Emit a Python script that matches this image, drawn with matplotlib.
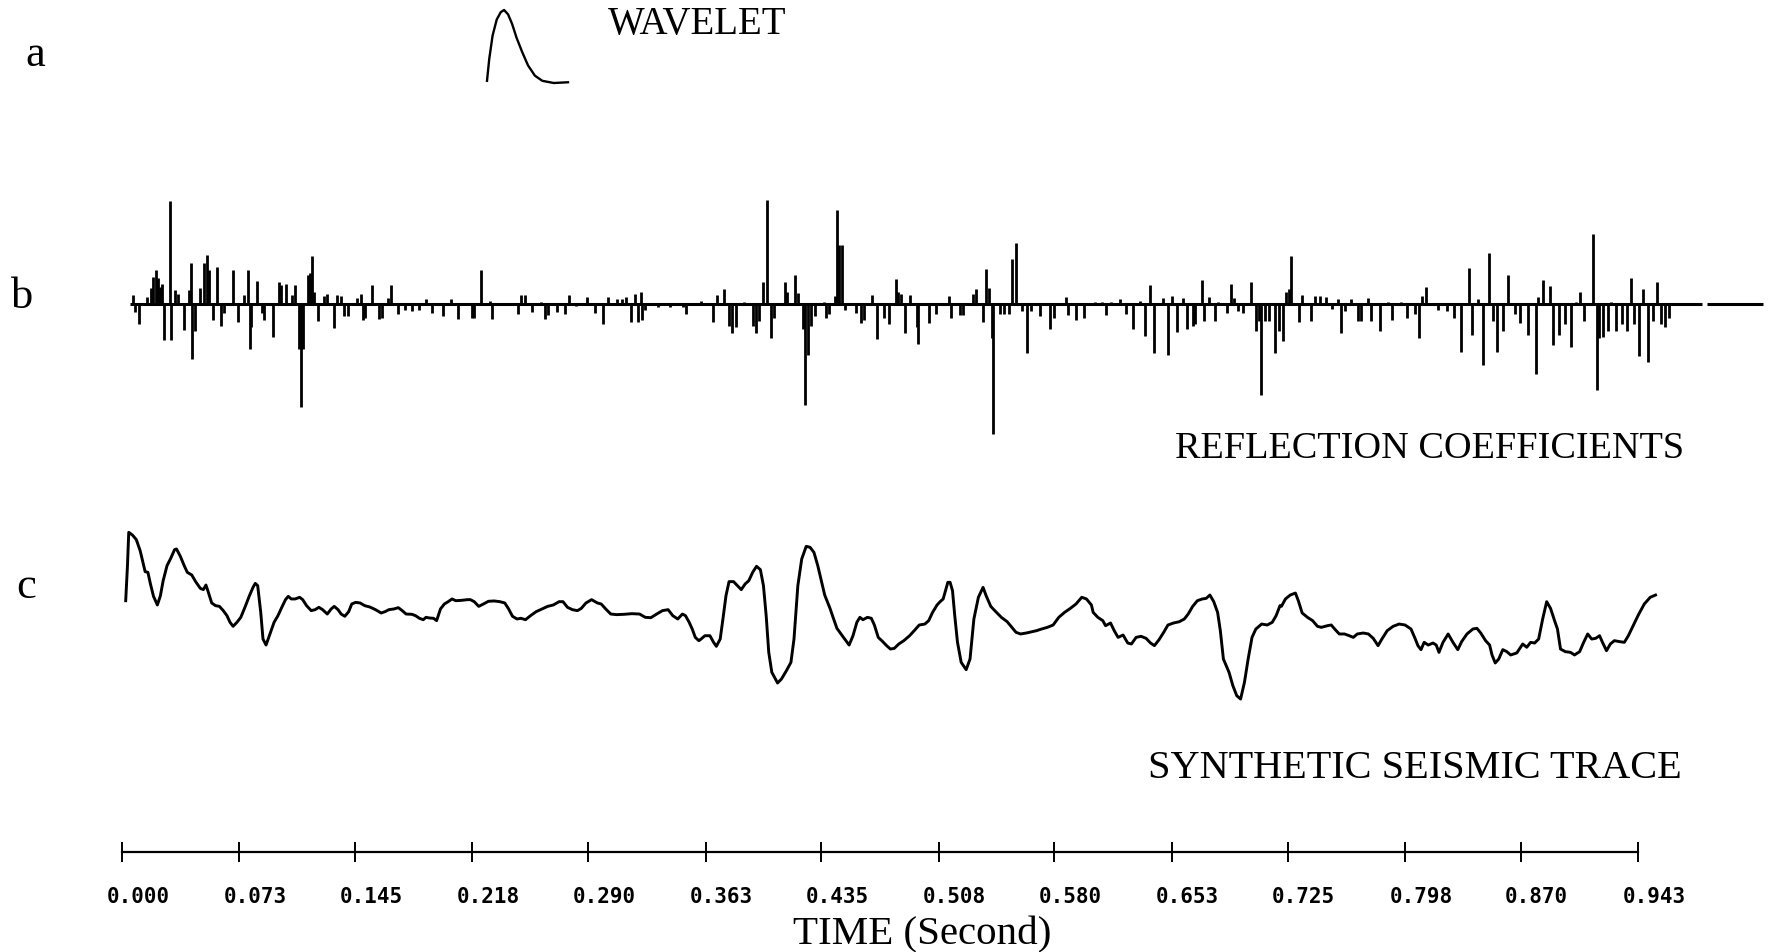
"""
Synthetic seismogram figure: wavelet, reflection coefficients, synthetic trace.
"""

import matplotlib
matplotlib.use("Agg")
import matplotlib.pyplot as plt
from matplotlib.transforms import ScaledTranslation

W, H = 1775, 953

# a: source wavelet (time from onset, s / normalised amplitude)
wavelet_t = [0.0000, 0.0014, 0.0035, 0.0061, 0.0086, 0.0107, 0.0132, 0.0157,
             0.0185, 0.0221, 0.0257, 0.0300, 0.0346, 0.0418, 0.0507]
wavelet_amp = [0.03, 0.33, 0.65, 0.87, 0.97, 1.00, 0.94, 0.81,
               0.62, 0.42, 0.24, 0.10, 0.03, 0.00, 0.01]

# b: reflection coefficients (two-way time, s / relative amplitude)
rc_time = [
    0.0070, 0.0080, 0.0107, 0.0158, 0.0180, 0.0191, 0.0212, 0.0223, 0.0234, 0.0250,
    0.0263, 0.0296, 0.0302, 0.0327, 0.0351, 0.0384, 0.0419, 0.0432, 0.0438, 0.0452,
    0.0487, 0.0509, 0.0531, 0.0544, 0.0564, 0.0590, 0.0618, 0.0636, 0.0689, 0.0724,
    0.0761, 0.0783, 0.0794, 0.0805, 0.0840, 0.0871, 0.0882, 0.0939, 0.0976, 0.0987,
    0.1020, 0.1057, 0.1079, 0.1101, 0.1112, 0.1127, 0.1156, 0.1171, 0.1184, 0.1195,
    0.1220, 0.1255, 0.1277, 0.1316, 0.1336, 0.1364, 0.1382, 0.1408, 0.1459, 0.1485,
    0.1496, 0.1509, 0.1557, 0.1597, 0.1617, 0.1654, 0.1676, 0.1715, 0.1759, 0.1803,
    0.1847, 0.1891, 0.1931, 0.1996, 0.2049, 0.2088, 0.2176, 0.2192, 0.2231, 0.2286,
    0.2303, 0.2352, 0.2461, 0.2483, 0.2505, 0.2549, 0.2604, 0.2633, 0.2648, 0.2703,
    0.2758, 0.2780, 0.2824, 0.2890, 0.2944, 0.2992, 0.3021, 0.3076, 0.3109, 0.3137,
    0.3164, 0.3190, 0.3208,
    0.3226, 0.3236, 0.3255, 0.3333, 0.3411, 0.3489, 0.3506, 0.3600, 0.3677, 0.3700,
    0.3744, 0.3777, 0.3795, 0.3817, 0.3866, 0.3928, 0.3944, 0.3962, 0.3988, 0.4015,
    0.4039, 0.4055, 0.4121, 0.4137, 0.4184, 0.4206, 0.4233, 0.4248, 0.4266, 0.4284,
    0.4310, 0.4366, 0.4381, 0.4399, 0.4432, 0.4450, 0.4461, 0.4477, 0.4499, 0.4563,
    0.4599, 0.4617, 0.4666, 0.4695, 0.4739, 0.4772, 0.4817, 0.4826, 0.4848, 0.4870,
    0.4901, 0.4943, 0.4954, 0.5021, 0.5065, 0.5143, 0.5155, 0.5210, 0.5232, 0.5294,
    0.5314, 0.5354, 0.5376, 0.5394, 0.5410, 0.5421, 0.5461, 0.5487, 0.5516, 0.5539,
    0.5559, 0.5599, 0.5627, 0.5654, 0.5710, 0.5772, 0.5798, 0.5869, 0.5883, 0.5932,
    0.5987, 0.6054, 0.6098, 0.6120, 0.6154, 0.6209, 0.6243, 0.6287, 0.6331, 0.6365,
    0.6394, 0.6420, 0.6476, 0.6505, 0.6531, 0.6565, 0.6598, 0.6625, 0.6665,
    0.6677, 0.6717, 0.6732, 0.6760, 0.6796, 0.6820, 0.6873, 0.6899, 0.6916, 0.6940,
    0.6976, 0.7024, 0.7055, 0.7071, 0.7088, 0.7107, 0.7136, 0.7174, 0.7198, 0.7222,
    0.7239, 0.7256, 0.7270, 0.7323, 0.7342, 0.7394, 0.7423, 0.7454, 0.7490, 0.7526,
    0.7562, 0.7581, 0.7610, 0.7645, 0.7688, 0.7705, 0.7753, 0.7770, 0.7825, 0.7873,
    0.7897, 0.7956, 0.7992, 0.8040, 0.8069, 0.8088, 0.8112, 0.8184, 0.8243, 0.8284,
    0.8327, 0.8380, 0.8399, 0.8435, 0.8463, 0.8502, 0.8530, 0.8554, 0.8590, 0.8621,
    0.8662, 0.8698, 0.8746, 0.8794, 0.8806, 0.8841, 0.8882, 0.8901, 0.8937, 0.8973,
    0.9014, 0.9045, 0.9069, 0.9093, 0.9152, 0.9172, 0.9188, 0.9212, 0.9241, 0.9265,
    0.9296, 0.9332, 0.9360, 0.9384, 0.9403, 0.9439, 0.9463, 0.9494, 0.9523, 0.9547,
    0.9571, 0.9595, 0.9624,
]
rc_amp = [
    8, -7, -18, 6, 14, 24, 30, 23, 15, 18,
    -32, 91, -32, 12, 9, -23, 12, 36, -49, -24,
    14, 36, 43, 30, -14, 33, -19, -8, 30, -16,
    8, 30, -40, -20, 20, -8, -14, -29, 19, 17,
    18, 8, 17, -40, -91, -40, 26, 27, 42, 11,
    -15, 7, 9, -21, 8, 7, -11, -11, 5, 9,
    -14, -12, 17, -13, -12, 5, 17, -9, -5, -6,
    -5, 4, -8, -11, 4, -13, -12, -12, 30, 3,
    -13, 1, -9, 8, 8, -7, 2, -13, -10, -7,
    -9, 8, -2, 6, -8, -18, 6, 4, 4, 6,
    -16, 9, -16,
    11, -14, -5, -3, -3, -3, -9, 3, -16, 8,
    13, -19, -26, -20, 2, -19, -26, -15, 19, 92,
    -30, -12, 19, 11, 26, 10, -22, -89, -45, -19,
    -11, 2, -12, -9, 7, 83, 52, 52, -5, -8,
    -17, -14, 8, -31, -12, -18, 22, 11, 9, -26,
    8, -20, -35, -17, -9, 7, -12, -10, -10, 9,
    13, -16, 31, 14, -30, -115, -9, -9, -9, 40,
    54, -6, -43, -6, -11, -22, -12, 6, -10, -14,
    -12, 2, 2, -10, 2, 4, -9, -22, 3, -28,
    17, -43, 5, -45, 7, -25, 5, -22, -19,
    -18, 21, -15, 6, -15, 2, -8, 18, 5, -6,
    -8, 19, -24, -15, -80, -15, -15, -43, -24, -33,
    11, 13, 42, -16, 8, -15, 7, 7, 6, -4,
    4, -26, -6, 4, -15, -15, 5, -15, -24, 2,
    -14, 2, -12, -9, -30, 7, 15, -5, -6, -12,
    -42, 32, -27, 4, -54, 45, -15, -42, -24, 26,
    -9, -17, -27, -62, 6, 21, 16, -36, -27, -18,
    -38, 2, 11, -15, 62, -76, -30, -29, -24, 2,
    -24, -18, -24, 23, -18, -46, 13, -51, -15, 19,
    -18, -20, -12,
]
rc_baseline_start = [0.005, 0.986]
rc_baseline_end = [0.983, 1.021]

# c: synthetic seismic trace (s / relative amplitude)
trace_time = [
    0.0023, 0.0034, 0.0042, 0.0065, 0.0089, 0.0113, 0.0130, 0.0144, 0.0161, 0.0177,
    0.0196, 0.0220, 0.0239, 0.0256, 0.0280, 0.0303, 0.0327, 0.0339, 0.0363, 0.0387,
    0.0406, 0.0434, 0.0458, 0.0487, 0.0506, 0.0522, 0.0534, 0.0558, 0.0582, 0.0606,
    0.0630, 0.0653, 0.0672, 0.0691, 0.0715, 0.0739, 0.0767, 0.0791, 0.0815, 0.0829,
    0.0844, 0.0863, 0.0877, 0.0896, 0.0915, 0.0946, 0.0970, 0.0994, 0.1017, 0.1034,
    0.1053, 0.1077, 0.1105, 0.1124, 0.1148, 0.1177, 0.1201, 0.1225, 0.1248, 0.1277,
    0.1301, 0.1320, 0.1344, 0.1363, 0.1386, 0.1410, 0.1429, 0.1453, 0.1481, 0.1510,
    0.1541, 0.1577, 0.1612, 0.1636, 0.1660, 0.1691, 0.1719, 0.1743, 0.1767, 0.1803,
    0.1826, 0.1850, 0.1874, 0.1891, 0.1915, 0.1938, 0.1957, 0.1981, 0.2005, 0.2029,
    0.2053, 0.2076, 0.2112, 0.2148, 0.2167, 0.2191, 0.2219, 0.2248, 0.2279, 0.2314,
    0.2350, 0.2381, 0.2405, 0.2429, 0.2457, 0.2481, 0.2510, 0.2541, 0.2576, 0.2612,
    0.2648, 0.2683, 0.2719, 0.2743, 0.2771, 0.2802, 0.2833, 0.2857, 0.2886, 0.2921,
    0.2957, 0.2981, 0.3009, 0.3040, 0.3076, 0.3124, 0.3171, 0.3219, 0.3255, 0.3290,
    0.3326, 0.3362, 0.3397, 0.3426, 0.3457, 0.3486, 0.3505, 0.3528, 0.3547, 0.3566,
    0.3588, 0.3602, 0.3626, 0.3657, 0.3680, 0.3697, 0.3721, 0.3738, 0.3757, 0.3776,
    0.3804, 0.3828, 0.3852, 0.3876, 0.3899, 0.3923, 0.3947, 0.3971, 0.3990, 0.4007,
    0.4023, 0.4042, 0.4078, 0.4102, 0.4133, 0.4161, 0.4180, 0.4204, 0.4228, 0.4256,
    0.4280, 0.4304, 0.4328, 0.4352, 0.4371, 0.4404, 0.4423, 0.4447, 0.4483, 0.4523,
    0.4547, 0.4571, 0.4590, 0.4609, 0.4637, 0.4661, 0.4680, 0.4704, 0.4732, 0.4756,
    0.4780, 0.4804, 0.4832, 0.4863, 0.4899, 0.4928, 0.4959, 0.4994, 0.5018, 0.5042,
    0.5070, 0.5089, 0.5108, 0.5137, 0.5151, 0.5166, 0.5180, 0.5197, 0.5220, 0.5251,
    0.5275, 0.5299, 0.5327, 0.5356, 0.5375, 0.5404, 0.5435, 0.5470, 0.5506, 0.5530,
    0.5561, 0.5589, 0.5625, 0.5661, 0.5689, 0.5720, 0.5756, 0.5792, 0.5827, 0.5863,
    0.5899, 0.5934, 0.5970, 0.5999, 0.6030, 0.6041, 0.6070, 0.6101, 0.6118, 0.6149,
    0.6172, 0.6196, 0.6227, 0.6256, 0.6279, 0.6308, 0.6339, 0.6370, 0.6398, 0.6422,
    0.6451, 0.6482, 0.6506, 0.6541, 0.6577, 0.6608, 0.6632, 0.6660, 0.6689, 0.6720,
    0.6744, 0.6767, 0.6791, 0.6815, 0.6832, 0.6851, 0.6886, 0.6910, 0.6934, 0.6958,
    0.6982, 0.7005, 0.7029, 0.7053, 0.7089, 0.7124, 0.7155, 0.7179, 0.7203, 0.7212,
    0.7237, 0.7267, 0.7299, 0.7317, 0.7341, 0.7374, 0.7406, 0.7436, 0.7460, 0.7498,
    0.7522, 0.7547, 0.7572, 0.7604, 0.7634, 0.7659, 0.7684, 0.7721, 0.7753, 0.7783,
    0.7813, 0.7837, 0.7870, 0.7907, 0.7944, 0.7981, 0.8018, 0.8043, 0.8061, 0.8080,
    0.8100, 0.8125, 0.8155, 0.8175, 0.8192, 0.8217, 0.8249, 0.8279, 0.8309, 0.8333,
    0.8366, 0.8403, 0.8428, 0.8452, 0.8482, 0.8507, 0.8522, 0.8542, 0.8564, 0.8589,
    0.8614, 0.8638, 0.8676, 0.8713, 0.8738, 0.8762, 0.8787, 0.8812, 0.8837, 0.8862,
    0.8886, 0.8911, 0.8929, 0.8948, 0.8978, 0.9010, 0.9035, 0.9067, 0.9092, 0.9117,
    0.9142, 0.9167, 0.9191, 0.9209, 0.9234, 0.9258, 0.9283, 0.9315, 0.9345, 0.9370,
    0.9400, 0.9432, 0.9469, 0.9506, 0.9539,
]
trace_amp = [
    0.062, 0.464, 0.847, 0.816, 0.763, 0.636, 0.502, 0.395, 0.388, 0.254,
    0.112, 0.013, 0.120, 0.292, 0.464, 0.548, 0.648, 0.656, 0.571, 0.464,
    0.388, 0.357, 0.281, 0.204, 0.189, 0.242, 0.177, 0.036, 0.005, -0.003,
    -0.052, -0.110, -0.186, -0.232, -0.186, -0.129, -0.003, 0.112, 0.215, 0.261,
    0.235, -0.072, -0.378, -0.447, -0.347, -0.186, -0.110, -0.014, 0.074, 0.112,
    0.082, 0.082, 0.101, 0.074, 0.005, -0.052, -0.041, -0.014, -0.041, -0.091,
    -0.033, -0.003, -0.041, -0.091, -0.117, -0.064, 0.024, 0.043, 0.036, 0.005,
    -0.010, -0.041, -0.079, -0.064, -0.041, -0.033, -0.018, -0.052, -0.091, -0.094,
    -0.110, -0.140, -0.156, -0.129, -0.137, -0.140, -0.167, -0.033, 0.024, 0.051,
    0.082, 0.062, 0.066, 0.074, 0.074, 0.051, -0.003, 0.024, 0.055, 0.059,
    0.051, 0.036, -0.033, -0.117, -0.148, -0.140, -0.156, -0.110, -0.064, -0.033,
    -0.003, 0.013, 0.051, 0.051, -0.014, -0.041, -0.052, -0.026, 0.036, 0.074,
    0.036, 0.024, -0.033, -0.091, -0.098, -0.094, -0.087, -0.091, -0.129, -0.133,
    -0.091, -0.052, -0.041, -0.110, -0.148, -0.091, -0.110, -0.186, -0.263, -0.359,
    -0.397, -0.378, -0.340, -0.340, -0.416, -0.462, -0.378, -0.148, 0.120, 0.281,
    0.281, 0.235, 0.189, 0.254, 0.292, 0.388, 0.457, 0.418, 0.235, -0.110,
    -0.531, -0.760, -0.883, -0.837, -0.741, -0.646, -0.378, 0.235, 0.541, 0.686,
    0.675, 0.617, 0.464, 0.273, 0.127, -0.026, -0.129, -0.255, -0.347, -0.447,
    -0.340, -0.186, -0.129, -0.156, -0.129, -0.140, -0.217, -0.359, -0.408, -0.454,
    -0.493, -0.485, -0.435, -0.397, -0.340, -0.282, -0.217, -0.206, -0.167, -0.072,
    0.013, 0.051, 0.082, 0.273, 0.273, 0.177, -0.110, -0.416, -0.646, -0.730,
    -0.607, -0.148, 0.101, 0.215, 0.120, -0.003, -0.064, -0.129, -0.179, -0.232,
    -0.301, -0.320, -0.309, -0.294, -0.282, -0.263, -0.244, -0.217, -0.129, -0.072,
    -0.026, 0.024, 0.101, 0.082, 0.013, -0.072, -0.129, -0.167, -0.225, -0.194,
    -0.282, -0.359, -0.332, -0.424, -0.435, -0.359, -0.347, -0.370, -0.424, -0.454,
    -0.385, -0.294, -0.217, -0.194, -0.179, -0.148, -0.091, -0.003, 0.062, 0.082,
    0.089, 0.127, 0.051, -0.072, -0.282, -0.607, -0.760, -0.914, -1.028, -1.067,
    -0.875, -0.607, -0.359, -0.263, -0.206, -0.217, -0.186, -0.110, 0.005, -0.003,
    0.082, 0.127, 0.150, 0.062, -0.079, -0.129, -0.167, -0.232, -0.244, -0.225,
    -0.217, -0.271, -0.320, -0.320, -0.340, -0.359, -0.320, -0.309, -0.320, -0.370,
    -0.454, -0.378, -0.282, -0.232, -0.206, -0.217, -0.263, -0.370, -0.454, -0.500,
    -0.416, -0.447, -0.424, -0.447, -0.531, -0.416, -0.320, -0.416, -0.500, -0.408,
    -0.320, -0.263, -0.255, -0.309, -0.397, -0.447, -0.561, -0.653, -0.607, -0.500,
    -0.523, -0.561, -0.538, -0.435, -0.473, -0.416, -0.424, -0.378, -0.148, 0.051,
    -0.026, -0.167, -0.263, -0.493, -0.523, -0.531, -0.561, -0.523, -0.416, -0.320,
    -0.378, -0.370, -0.340, -0.416, -0.512, -0.435, -0.397, -0.408, -0.416, -0.340,
    -0.225, -0.102, 0.024, 0.101, 0.127,
]

# time axis
tick_values = [0.000, 0.073, 0.145, 0.218, 0.290, 0.363, 0.435,
               0.508, 0.580, 0.653, 0.725, 0.798, 0.870, 0.943]
tick_labels = ["0.000", "0.073", "0.145", "0.218", "0.290", "0.363", "0.435",
               "0.508", "0.580", "0.653", "0.725", "0.798", "0.870", "0.943"]

SERIF = ["Liberation Serif", "DejaVu Serif"]

fig = plt.figure(figsize=(W / 100, H / 100), dpi=100)
fig.patch.set_facecolor("white")


def px_axes(x0, y0, x1, y1):
    """Axes placed by pixel box (top-left origin)."""
    ax = fig.add_axes([x0 / W, 1 - y1 / H, (x1 - x0) / W, (y1 - y0) / H])
    ax.set_axis_off()
    return ax


def px_text(x, y, s, size, **kw):
    fig.text(x / W, 1 - y / H, s, fontsize=size, family=SERIF, **kw)


# a: wavelet
ax_w = px_axes(487, 11, 568, 84)
ax_w.set_xlim(0, 0.0507)
ax_w.set_ylim(0, 1)
ax_w.plot(wavelet_t, wavelet_amp, color="black", linewidth=1.7, clip_on=False)

# b: reflection coefficients
ax_b = px_axes(122, 180, 1638, 460)
ax_b.set_xlim(0, 0.943)
ax_b.set_ylim(-136.9, 110.4)
ax_b.hlines([0, 0], rc_baseline_start, rc_baseline_end, color="black",
            linewidth=2.2, clip_on=False)
ax_b.vlines(rc_time, 0, rc_amp, color="black", linewidth=2.0, clip_on=False)

# c: synthetic trace
ax_c = px_axes(122, 500, 1638, 730)
ax_c.set_xlim(0, 0.943)
ax_c.set_ylim(-1.411, 1.2296)
ax_c.plot(trace_time, trace_amp, color="black", linewidth=2.1,
          solid_joinstyle="round", clip_on=False)

# time axis
ax_t = fig.add_axes([122 / W, 1 - 853 / H, 1516 / W, 0.001])
ax_t.set_xlim(0, 0.943)
for side in ["top", "left", "right"]:
    ax_t.spines[side].set_visible(False)
ax_t.spines["bottom"].set_linewidth(1.6)
ax_t.set_yticks([])
ax_t.set_xticks(tick_values, tick_labels)
ax_t.tick_params(axis="x", direction="inout", length=15, width=1.4, pad=17,
                 labelsize=15)
shift = ScaledTranslation(0.16, 0, fig.dpi_scale_trans)
for lbl in ax_t.get_xticklabels():
    lbl.set_fontfamily("DejaVu Sans Mono")
    lbl.set_fontweight("bold")
    lbl.set_transform(lbl.get_transform() + shift)

# labels
px_text(25, 66, "a", 32, va="baseline")
px_text(11, 308, "b", 32, va="baseline")
px_text(16, 598, "c", 32, va="baseline")
px_text(608, 34, "WAVELET", 28, va="baseline")
px_text(1175, 458, "REFLECTION COEFFICIENTS", 27.5, va="baseline")
px_text(1148, 778, "SYNTHETIC SEISMIC TRACE", 29, va="baseline")
px_text(922, 944, "TIME (Second)", 29.5, va="baseline", ha="center")

fig.savefig("out.png", dpi=100, facecolor="white")
plt.close(fig)
